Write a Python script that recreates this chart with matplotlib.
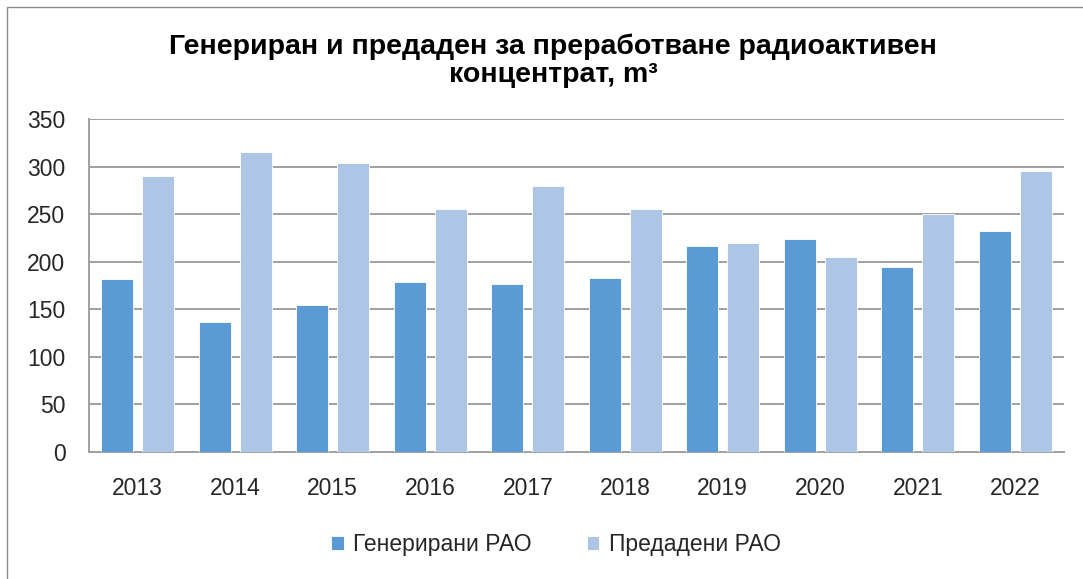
import matplotlib
matplotlib.use("Agg")
import matplotlib.pyplot as plt
import numpy as np
from matplotlib.patches import Rectangle

years = ["2013", "2014", "2015", "2016", "2017", "2018", "2019", "2020", "2021", "2022"]
generated = [182, 137, 155, 179, 177, 183, 217, 224, 194, 232]
transferred = [290, 315, 304, 255, 280, 255, 220, 205, 250, 295]
series_names = ["Генерирани РАО", "Предадени РАО"]
title = "Генериран и предаден за преработване радиоактивен\nконцентрат, m³"
yticks = [0, 50, 100, 150, 200, 250, 300, 350]

plt.rcParams['font.family'] = ['Liberation Sans', 'DejaVu Sans']

W, H = 1083, 579
fig = plt.figure(figsize=(W / 100, H / 100), dpi=100)
fig.patches.append(Rectangle((7 / W, -0.05), 1.2, (1 - 7 / H) + 0.05,
                             transform=fig.transFigure, fill=False,
                             edgecolor='#8C8C8C', linewidth=1.0))

left, right, top, bottom = 89, 1064, 119, 452
ax = fig.add_axes([left / W, 1 - bottom / H, (right - left) / W, (bottom - top) / H])

x = np.arange(len(years))
w = 0.325
off = 0.21
ax.bar(x - off, generated, width=w, color='#5B9BD5', edgecolor='white', linewidth=0.6,
       label=series_names[0], zorder=3)
ax.bar(x + off, transferred, width=w, color='#ADC6E5', edgecolor='white', linewidth=0.6,
       label=series_names[1], zorder=3)

ax.set_xlim(-0.5, len(years) - 0.5)
ax.set_ylim(0, 350)
ax.set_yticks(yticks)
ax.set_yticklabels([str(v) for v in yticks], fontsize=16.5)
ax.set_xticks(x)
ax.set_xticklabels(years, fontsize=16.5)
ax.tick_params(axis='both', length=0, colors='#262626')
ax.tick_params(axis='x', pad=18)
ax.tick_params(axis='y', pad=17)
ax.grid(axis='y', color='#A0A0A0', linewidth=1.4, zorder=0)
for s in ['top', 'right']:
    ax.spines[s].set_visible(False)
for s in ['left', 'bottom']:
    ax.spines[s].set_color('#A0A0A0')
    ax.spines[s].set_linewidth(1.4)

fig.text(553 / W, 1 - 61 / H, title, ha='center', va='center', fontsize=20.5,
         fontweight='bold', linespacing=1.1, color='black')

leg = fig.legend(loc='center', bbox_to_anchor=(556 / W, 1 - 545 / H), ncol=2, frameon=False,
                 prop={'size': 16.5},
                 handlelength=0.55, handleheight=0.55, handletextpad=0.4, columnspacing=2.4)
for t in leg.get_texts():
    t.set_color('#262626')

fig.savefig('out.png', dpi=100)
